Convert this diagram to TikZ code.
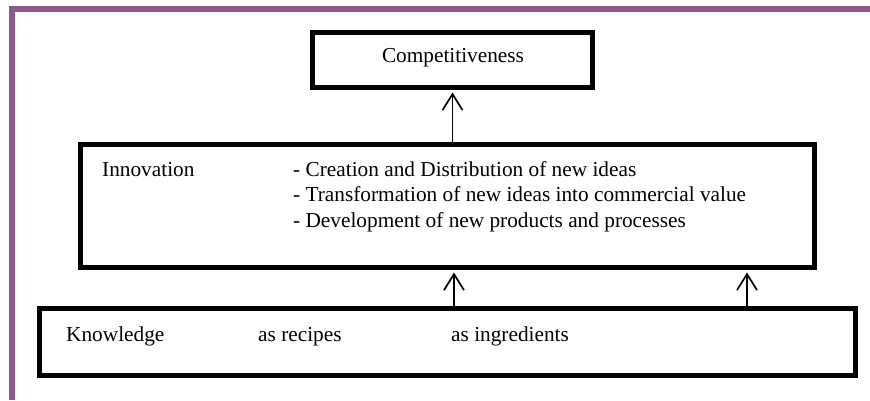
\documentclass[tikz,border=0pt]{standalone}
\usepackage{fontspec}
\setmainfont{Liberation Serif}
\usetikzlibrary{arrows.meta}
\definecolor{framepurple}{RGB}{142,90,142}
\tikzset{
  box/.style={draw=black, line width=5pt, inner sep=0pt},
  txt/.style={inner sep=0pt, anchor=base west, font=\fontsize{21.3}{25}\selectfont},
  arr/.style={draw=black, line width=1.7pt,
    -{Straight Barb[length=16pt, width=20pt, line width=1.7pt]}},
}
\begin{document}
\begin{tikzpicture}[x=1pt, y=-1pt]
  \useasboundingbox (0,0) rectangle (870,400);
  % page frame on the left and top
  \draw[framepurple, line width=5.5pt] (12,400) -- (12,8.75) -- (870,8.75);

  % boxes
  \node[box, minimum width=280pt, minimum height=55pt] (comp) at (452.5,60) {};
  \node[box, minimum width=734pt, minimum height=123pt] (inno) at (447.5,206) {};
  \node[box, minimum width=816pt, minimum height=67pt] (know) at (447.5,342) {};

  % texts
  \node[txt, anchor=base] (tcomp) at (453,62) {Competitiveness};
  \node[txt] (tinno) at (102,176) {Innovation};
  \node[txt] (l1) at (293,176) {- Creation and Distribution of new ideas};
  \node[txt] (l2) at (293,201.5) {- Transformation of new ideas into commercial value};
  \node[txt] (l3) at (293,227) {- Development of new products and processes};
  \node[txt] (tknow) at (66,341) {Knowledge};
  \node[txt] (trec) at (258,341) {as recipes};
  \node[txt] (ting) at (451,341) {as ingredients};

  % connectors
  \coordinate (c1) at (454,0);
  \coordinate (c2) at (747,0);
  \draw[arr, shorten >=2.5pt] (inno.north -| comp) -- (comp.south);
  \draw[arr, shorten >=2.5pt] (know.north -| c1) -- (inno.south -| c1);
  \draw[arr, shorten >=2.5pt] (know.north -| c2) -- (inno.south -| c2);
\end{tikzpicture}
\end{document}
